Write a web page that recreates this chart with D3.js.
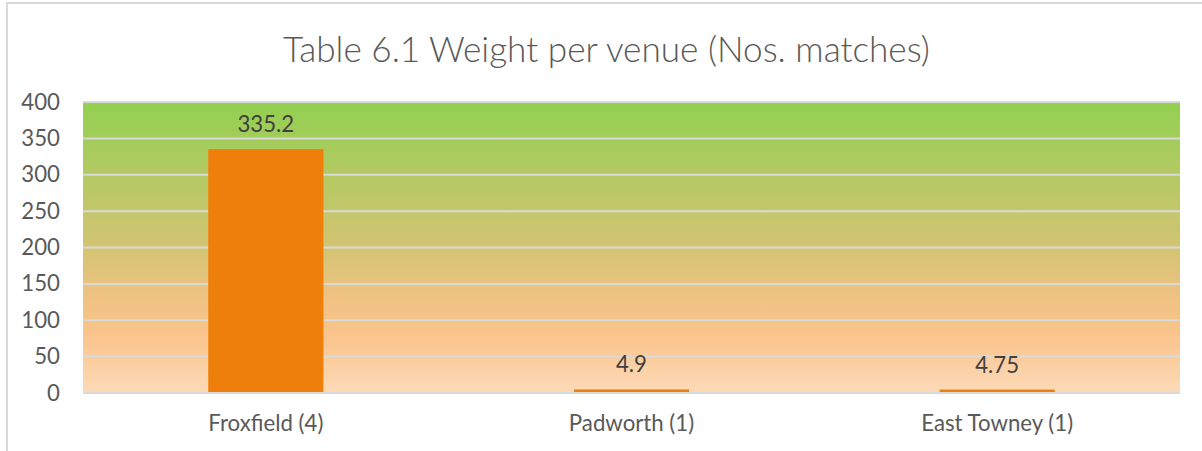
<!DOCTYPE html>
<html><head><meta charset="utf-8">
<script src="https://cdn.jsdelivr.net/npm/d3@7"></script>
<style>html,body{margin:0;padding:0;background:#fff;overflow:hidden}</style>
</head><body>
<svg id="c" width="1202" height="451"></svg>
<script>
const title = "Table 6.1 Weight per venue (Nos. matches)";
const categories = ["Froxfield (4)", "Padworth (1)", "East Towney (1)"];
const values = [335.2, 4.9, 4.75];
const valueLabels = ["335.2", "4.9", "4.75"];
const yTicks = [0, 50, 100, 150, 200, 250, 300, 350, 400];

const svg = d3.select("#c");
const font = "Lato, 'Open Sans', sans-serif";
const textColor = "#595959";
const plot = {left: 83, right: 1180, top: 102, bottom: 393};

// outer border
svg.append("rect").attr("x", 7).attr("y", 3).attr("width", 1210).attr("height", 460)
  .attr("fill", "#fff").attr("stroke", "#d9d9d9").attr("stroke-width", 2);

// gradient background
const defs = svg.append("defs");
const grad = defs.append("linearGradient").attr("id", "bg").attr("x1", 0).attr("y1", 0).attr("x2", 0).attr("y2", 1);
[[0, "#92d050"], [0.25, "#b3c963"], [0.5, "#d3c473"], [0.68, "#f0c283"], [0.8, "#fac48c"], [1, "#fcdab8"]]
  .forEach(([o, c]) => grad.append("stop").attr("offset", o).attr("stop-color", c));

const x = d3.scaleBand().domain(categories).range([plot.left, plot.right]).paddingInner(0.685).paddingOuter(0.3425);
const y = d3.scaleLinear().domain([0, 400]).range([plot.bottom, plot.top]);

svg.append("rect").attr("x", plot.left).attr("y", plot.top)
  .attr("width", plot.right - plot.left).attr("height", plot.bottom - plot.top).attr("fill", "url(#bg)");

// gridlines
svg.append("g").selectAll("line").data(yTicks).join("line")
  .attr("x1", plot.left).attr("x2", plot.right)
  .attr("y1", d => y(d)).attr("y2", d => y(d))
  .attr("stroke", "#d9d9d9").attr("stroke-width", 2);

// bars
svg.append("g").selectAll("rect").data(values).join("rect")
  .attr("x", (d, i) => x(categories[i]))
  .attr("width", x.bandwidth())
  .attr("y", d => y(d))
  .attr("height", d => y(0) - y(d) - 1)
  .attr("fill", "#ef7f0b");

function fit(sel, target) {
  const w = sel.node().getComputedTextLength();
  const fs = parseFloat(sel.attr("font-size"));
  sel.attr("font-size", fs * target / w);
  return fs * target / w;
}

// title
const t = svg.append("text").attr("x", 606.5).attr("y", 62).attr("text-anchor", "middle")
  .attr("font-family", font).attr("font-weight", 300).attr("font-size", 30).attr("fill", "#595959").text(title);
fit(t, 647);

// measure a base font size from category label
const probe = svg.append("text").attr("font-family", font).attr("font-size", 20).text(categories[0]);
const fs = fit(probe, 115);
probe.remove();

// y tick labels
svg.append("g").selectAll("text").data(yTicks).join("text")
  .attr("x", 60).attr("y", d => y(d) + 7.5).attr("text-anchor", "end")
  .attr("font-family", font).attr("font-size", fs).attr("fill", textColor)
  .text(d => d);

// x category labels
svg.append("g").selectAll("text").data(categories).join("text")
  .attr("x", d => x(d) + x.bandwidth() / 2).attr("y", 431).attr("text-anchor", "middle")
  .attr("font-family", font).attr("font-size", fs).attr("fill", textColor)
  .text(d => d);

// data labels
svg.append("g").selectAll("text").data(values).join("text")
  .attr("x", (d, i) => x(categories[i]) + x.bandwidth() / 2).attr("y", d => y(d) - 17)
  .attr("text-anchor", "middle")
  .attr("font-family", font).attr("font-size", fs).attr("fill", "#404040")
  .text((d, i) => valueLabels[i]);
</script>
</body></html>
